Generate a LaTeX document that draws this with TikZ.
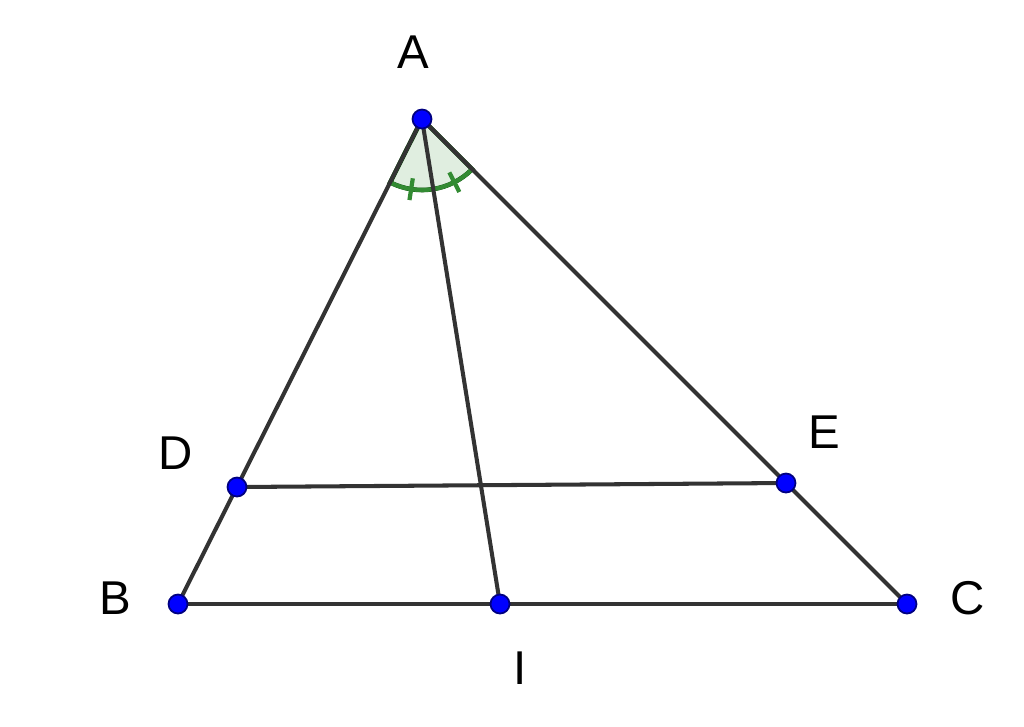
\documentclass[tikz,border=0pt]{standalone}
\usepackage{fontspec}
\setmainfont{Liberation Sans}
\usepackage{tikz}
\usetikzlibrary{calc}
\definecolor{seg}{RGB}{51,51,51}
\definecolor{ptblue}{RGB}{0,0,255}
\definecolor{angg}{RGB}{0,110,0}
\tikzstyle{pt} = [circle, fill=ptblue, draw=ptblue!50!black, line width=0.5pt, inner sep=0pt, minimum size=0.19cm]
\tikzstyle{lbl} = [font=\fontsize{13.5}{16}\selectfont, inner sep=0pt]
\tikzstyle{side} = [draw=seg, line width=1.15pt]

\begin{document}
\begin{tikzpicture}
		\useasboundingbox (0,0) rectangle (10.24,-7.26);
		%Place points
		\coordinate (A) at (4.22,-1.19);
		\coordinate (B) at (1.78,-6.04);
		\coordinate (C) at (9.07,-6.04);
		\coordinate (D) at (2.37,-4.87);
		\coordinate (E) at (7.86,-4.83);
		\coordinate (I) at (5.00,-6.04);
		
		%Angle marks
		\filldraw [fill=angg!12, draw=angg!60!black, line width=1.3pt] (A) -- ++(-116.7:0.71) arc[start angle=-116.7, end angle=-45, radius=0.71] -- cycle;
		\draw [angg!80, line width=1.2pt] ($(A)+(-116.7:0.71)$) arc[start angle=-116.7, end angle=-45, radius=0.71];
		\draw [angg!80, line width=1.2pt] ($(A)+(-98.8:0.6)$) -- ($(A)+(-98.8:0.82)$);
		\draw [angg!80, line width=1.2pt] ($(A)+(-62.9:0.6)$) -- ($(A)+(-62.9:0.82)$);
		
		%Draw edges
		\draw [side] (A) -- (B);
		\draw [side] (A) -- (C);
		\draw [side] (B) -- (C);
		\draw [side] (D) -- (E);
		\draw [side] (A) -- (I);
		
		%Dots and labels
		\foreach \p in {A,B,C,D,E,I}
			\node [pt] (dot\p) at (\p) {};
		\node [lbl] (labA) at (4.13,-0.52) {A};
		\node [lbl] (labB) at (1.15,-5.98) {B};
		\node [lbl] (labC) at (9.68,-5.98) {C};
		\node [lbl] (labD) at (1.76,-4.53) {D};
		\node [lbl] (labE) at (8.24,-4.32) {E};
		\node [lbl] (labI) at (5.20,-6.68) {I};
		
	\end{tikzpicture}
\end{document}
